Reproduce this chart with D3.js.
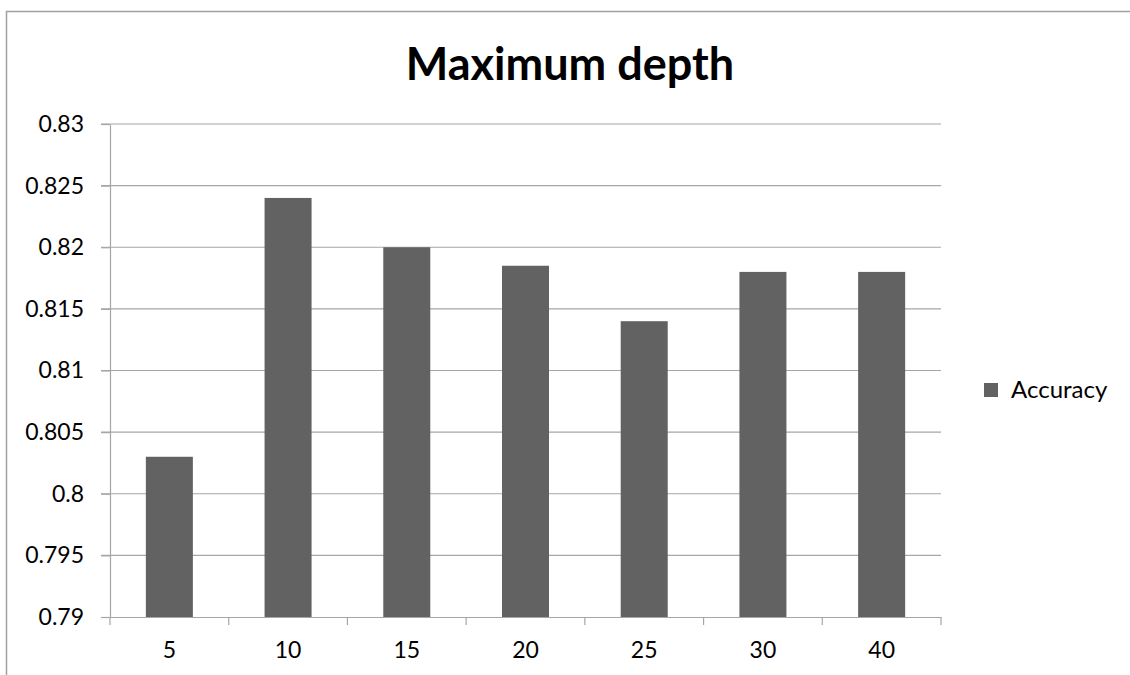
<!DOCTYPE html>
<html><head><meta charset="utf-8">
<script src="https://cdn.jsdelivr.net/npm/d3@7"></script>
<style>body{margin:0;background:#fff}svg{display:block}</style>
</head><body>
<script>
const categories = ["5","10","15","20","25","30","40"];
const accuracy = [0.803,0.824,0.820,0.8185,0.814,0.818,0.818];
const yTicks = [0.79,0.795,0.8,0.805,0.81,0.815,0.82,0.825,0.83];
const seriesName = "Accuracy";
const title = "Maximum depth";

const W=1130,H=675;
const m={left:110,right:941,top:124,bottom:617};
const font="Lato, 'Open Sans', sans-serif";
const svg=d3.select("body").append("svg").attr("width",W).attr("height",H);

// frame
svg.append("path").attr("d",`M6.5,${H} V11.5 H${W}`).attr("fill","none").attr("stroke","#a0a0a0").attr("stroke-width",1.5);

const x=d3.scaleBand().domain(categories).range([m.left,m.right]).paddingInner(0.604).paddingOuter(0.302);
const xb=d3.scaleBand().domain(categories).range([m.left,m.right]);
const y=d3.scaleLinear().domain([0.79,0.83]).range([m.bottom,m.top]);

// gridlines
svg.append("g").selectAll("line").data(yTicks.slice(1)).join("line")
 .attr("x1",m.left-9).attr("x2",m.right).attr("y1",d=>y(d)).attr("y2",d=>y(d))
 .attr("stroke","#a6a6a6").attr("stroke-width",1.2);

// bars
svg.append("g").selectAll("rect").data(accuracy).join("rect")
 .attr("x",(d,i)=>x(categories[i])).attr("width",x.bandwidth())
 .attr("y",d=>y(d)).attr("height",d=>y(0.79)-y(d)).attr("fill","#626262");

// y axis
const ya=svg.append("g").attr("transform",`translate(${m.left},0)`)
 .call(d3.axisLeft(y).tickValues(yTicks).tickFormat(d=>String(+d.toFixed(3))).tickSize(9).tickSizeOuter(0).tickPadding(17));
ya.select(".domain").attr("stroke","#a6a6a6").attr("stroke-width",1.2);
ya.selectAll(".tick line").attr("stroke","#a6a6a6").attr("stroke-width",1.2);
ya.selectAll("text").attr("font-family",font).attr("font-size",23).attr("fill","#000");

// x axis
const xa=svg.append("g").attr("transform",`translate(0,${m.bottom})`)
 .call(d3.axisBottom(xb).tickSize(0).tickPadding(25));
xa.select(".domain").attr("stroke","#a6a6a6").attr("stroke-width",1.2);
xa.selectAll("text").attr("font-family",font).attr("font-size",23).attr("fill","#000");
const bounds=categories.map(c=>xb(c)).concat([m.right]);
svg.append("g").selectAll("line").data(bounds).join("line")
 .attr("x1",d=>d).attr("x2",d=>d).attr("y1",m.bottom).attr("y2",m.bottom+8)
 .attr("stroke","#a6a6a6").attr("stroke-width",1.2);

// title
svg.append("text").attr("x",570).attr("y",80).attr("text-anchor","middle")
 .attr("font-family",font).attr("font-weight","bold").attr("font-size",45).text(title);

// legend
svg.append("rect").attr("x",984).attr("y",383).attr("width",14).attr("height",14).attr("fill","#626262");
svg.append("text").attr("x",1011).attr("y",398).attr("font-family",font).attr("font-size",24).text(seriesName);
</script>
</body></html>
